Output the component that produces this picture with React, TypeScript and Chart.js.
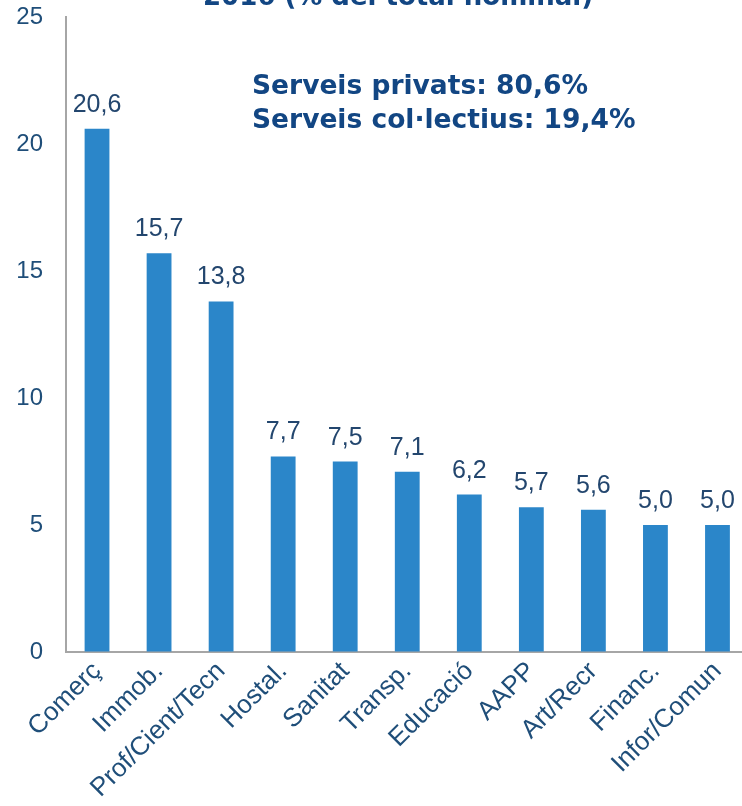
import React, { useEffect, useRef } from "react";
import { Chart, registerables } from "chart.js";

Chart.register(...registerables);

const categories = ["Comerç", "Immob.", "Prof/Cient/Tecn", "Hostal.", "Sanitat", "Transp.", "Educació", "AAPP", "Art/Recr", "Financ.", "Infor/Comun"];
const values = [20.6, 15.7, 13.8, 7.7, 7.5, 7.1, 6.2, 5.7, 5.6, 5.0, 5.0];
const yMin = 0;
const yMax = 25;
const yStep = 5;
const noteLines = ["Serveis privats: 80,6%", "Serveis col·lectius: 19,4%"];
const titleText = "2016 (% del total nominal)";

const BAR = "#2B86C9";
const TICK = "#1F4E79";
const LABEL = "#23466E";
const NOTE = "#124683";
const AXIS = "#A6A6A6";

const W = 750;
const H = 806;

const overlay = {
  id: "overlay",
  afterDatasetsDraw(chart: any) {
    const ctx = chart.ctx;
    const meta = chart.getDatasetMeta(0);
    ctx.save();
    ctx.fillStyle = LABEL;
    ctx.font = "25px 'Liberation Sans', Arial, sans-serif";
    ctx.textAlign = "center";
    ctx.textBaseline = "alphabetic";
    meta.data.forEach((el: any, i: number) => {
      ctx.fillText(values[i].toFixed(1).replace(".", ","), el.x, el.y - 17);
    });
    ctx.fillStyle = NOTE;
    ctx.font = "bold 26.5px 'DejaVu Sans', Verdana, sans-serif";
    ctx.textAlign = "left";
    ctx.textBaseline = "alphabetic";
    noteLines.forEach((t, i) => ctx.fillText(t, 252, 94 + i * 34));
    ctx.textAlign = "center";
    ctx.font = "bold 26px 'DejaVu Sans', Verdana, sans-serif";
    ctx.fillText(titleText, 398, 5);
    ctx.restore();
  },
};

export default function App() {
  const ref = useRef<HTMLCanvasElement>(null);
  useEffect(() => {
    if (!ref.current) return;
    const chart = new Chart(ref.current, {
      type: "bar",
      data: {
        labels: categories,
        datasets: [
          {
            data: values,
            backgroundColor: BAR,
            borderWidth: 0,
            barPercentage: 0.4,
            categoryPercentage: 1,
          },
        ],
      },
      options: {
        responsive: false,
        animation: false,
        devicePixelRatio: 1,
        layout: { padding: { top: 17, right: 1.5, left: 0, bottom: 0 } },
        plugins: { legend: { display: false }, tooltip: { enabled: false }, title: { display: false } },
        scales: {
          x: {
            grid: { display: true, drawOnChartArea: false, drawTicks: false },
            border: { display: true, color: AXIS, width: 2 },
            ticks: {
              minRotation: 45,
              maxRotation: 45,
              autoSkip: false,
              padding: 4,
              color: TICK,
              font: { size: 26, family: "'Liberation Sans', Arial, sans-serif" },
            },
            afterFit: (s: any) => {
              s.height = 154;
              s.paddingLeft = 0;
              s.paddingRight = 0;
            },
          },
          y: {
            min: yMin,
            max: yMax,
            grid: { display: true, drawOnChartArea: false, drawTicks: false },
            border: { display: true, color: AXIS, width: 2 },
            ticks: {
              stepSize: yStep,
              padding: 23,
              color: TICK,
              font: { size: 24, family: "'Liberation Sans', Arial, sans-serif" },
            },
            afterFit: (s: any) => {
              s.width = 66;
              s.paddingTop = 0;
              s.paddingBottom = 0;
            },
          },
        },
      },
      plugins: [overlay],
    });
    return () => chart.destroy();
  }, []);
  return (
    <div style={{ position: "fixed", left: 0, top: 0, width: 742, height: 806, overflow: "hidden", background: "#fff" }}>
      <canvas ref={ref} width={W} height={H} style={{ display: "block", width: W, height: H }} />
    </div>
  );
}
